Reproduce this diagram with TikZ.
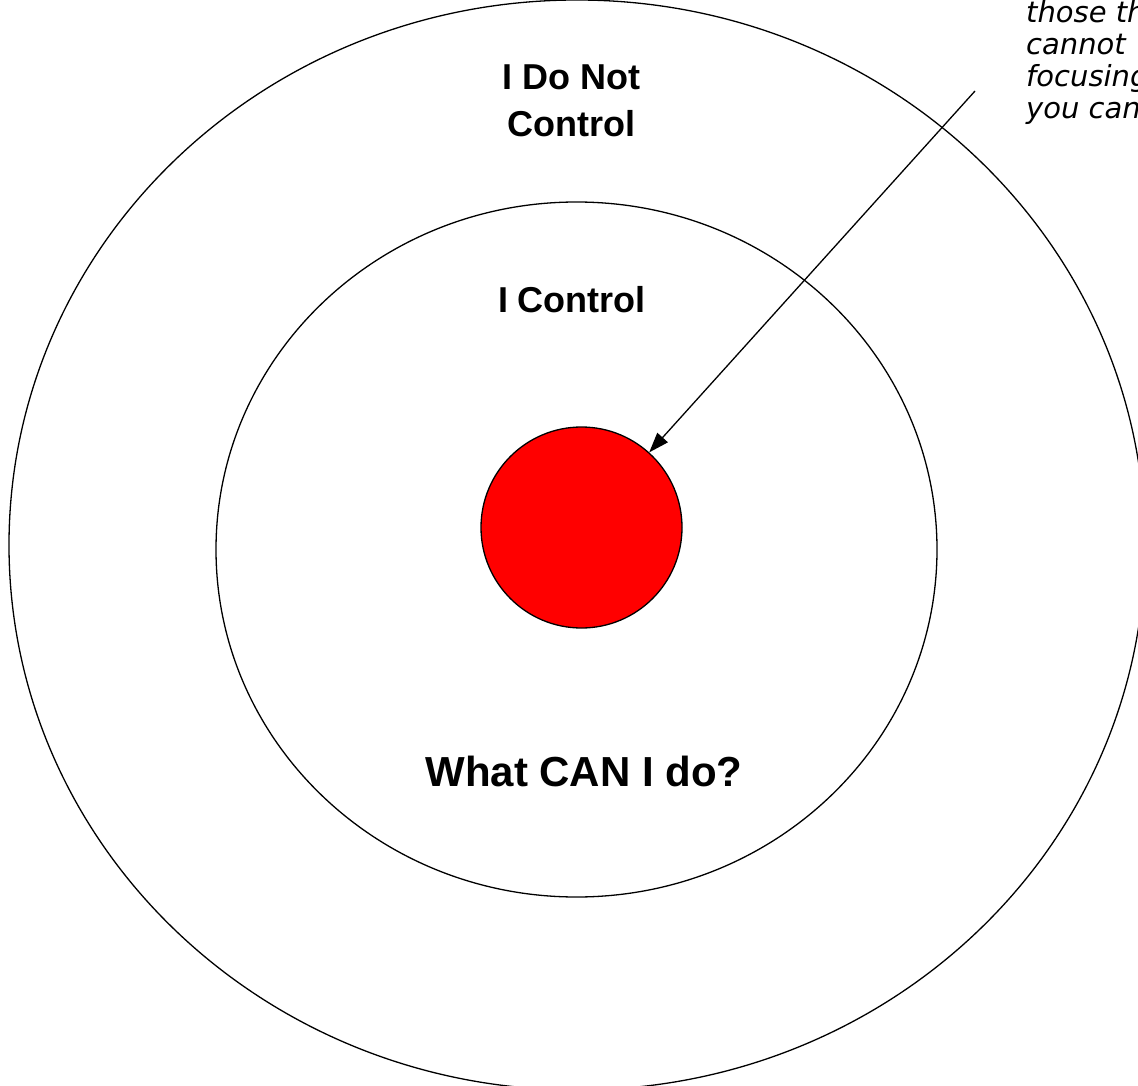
\documentclass[tikz,border=0pt]{standalone}
\usepackage{fontspec}
\setmainfont{Liberation Sans}
\newfontfamily\notefont{DejaVu Sans}
\usetikzlibrary{shapes.geometric,arrows.meta}
\tikzset{
  ring/.style={ellipse, draw=black, line width=1.3pt, inner sep=0pt},
  dot/.style={circle, draw=black, fill=red, line width=1.3pt, inner sep=0pt, minimum size=201pt},
  biglabel/.style={font=\fontsize{36}{47}\selectfont\bfseries, align=center, inner sep=0pt},
  hugelabel/.style={font=\fontsize{42}{50}\selectfont\bfseries, inner sep=0pt},
  notelabel/.style={font=\notefont\itshape\fontsize{29}{32}\selectfont, align=left, inner sep=0pt},
  pointer/.style={line width=1.3pt, -{Triangle[length=20pt,width=14pt]}}
}
\begin{document}
\begin{tikzpicture}[x=1pt,y=-1pt]
\useasboundingbox (0,0) rectangle (1138,1086);
\clip (0,0) rectangle (1138,1086);
\fill[white] (0,0) rectangle (1138,1086);
\node[ring, minimum width=1136pt, minimum height=1090pt] (outer) at (577,545) {};
\node[ring, minimum width=721pt, minimum height=695pt] (inner) at (576.5,549.5) {};
\node[dot] (red) at (581.5,527.5) {};
\node[biglabel, anchor=base] (notctl) at (571.5,137) {I Do Not\\Control};
\node[biglabel, anchor=base] (ctl) at (572,312) {I Control};
\node[hugelabel, anchor=base] (what) at (584,786) {What CAN I do?};
\node[notelabel, anchor=base west] (note) at (1026,119) {those th\\cannot\\focusing\\you can};
\coordinate (start) at (975,91);
\draw[pointer] (start) -- (red);
\end{tikzpicture}
\end{document}
